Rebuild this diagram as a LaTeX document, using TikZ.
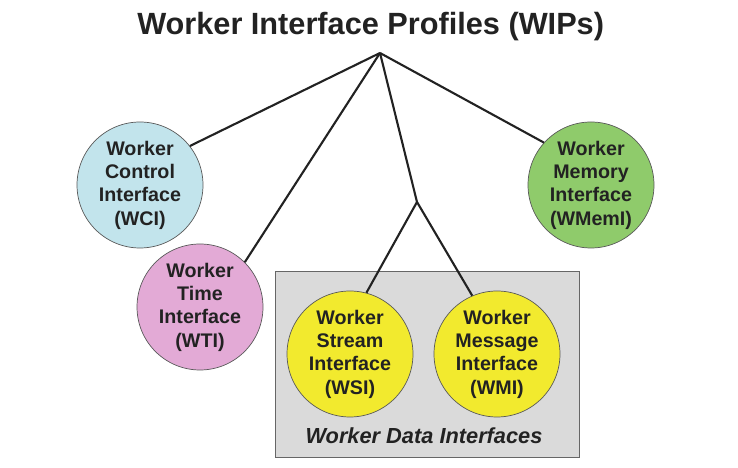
\documentclass[tikz,border=0pt]{standalone}
\usepackage{fontspec}
\setmainfont{Liberation Sans}
\definecolor{bleuWCI}{HTML}{C2E4EC}
\definecolor{roseWTI}{HTML}{E3AAD6}
\definecolor{vertWMem}{HTML}{8FCB6B}
\definecolor{jauneW}{HTML}{F2EA2E}
\definecolor{grisBox}{HTML}{DADADA}
\definecolor{encre}{HTML}{222222}
\begin{document}
\begin{tikzpicture}  % ------ Worker Interface Profiles -------
      [bulle/.style={circle, draw=gray!70!black, line width=.6pt, minimum size=3.78cm,
         inner sep=0pt, align=center, text=encre,
         font=\fontsize{16.8}{19.9}\selectfont\bfseries},
       trait/.style={line width=1.8pt, encre}]

    \useasboundingbox (0,0) rectangle (22.14,14.04);

    \coordinate (H) at (11.4,12.45);    % sommet commun
    \coordinate (B) at (12.51,7.98);    % embranchement WSI / WMI

    \draw[fill=grisBox, draw=gray!80!black, line width=.7pt] (8.25,5.91) rectangle (17.37,0.33) ;

  \node (titre) at (11.12,13.23) [text=encre, font=\fontsize{26.2}{30}\selectfont\bfseries]
      {Worker Interface Profiles (WIPs)} ;

    \node[bulle, fill=bleuWCI]  (WCI)  at (4.2,8.49)   {Worker\\Control\\Interface\\(WCI)} ;
    \node[bulle, fill=roseWTI]  (WTI)  at (6.0,4.83)   {Worker\\Time\\Interface\\(WTI)} ;
    \node[bulle, fill=vertWMem] (WMem) at (17.73,8.49) {Worker\\Memory\\Interface\\(WMemI)} ;
    \node[bulle, fill=jauneW]   (WSI)  at (10.5,3.42)  {Worker\\Stream\\Interface\\(WSI)} ;
    \node[bulle, fill=jauneW]   (WMI)  at (14.91,3.42) {Worker\\Message\\Interface\\(WMI)} ;

  \node (donnees) at (12.72,0.96) [text=encre, font=\fontsize{18.6}{22}\selectfont\bfseries\itshape]
      {Worker Data Interfaces} ;

    \draw[trait] (H) -- (WCI.38) ;
    \draw[trait] (H) -- (WTI.45) ;
    \draw[trait] (H) -- (WMem.138) ;
    \draw[trait] (H) -- (B) ;
    \draw[trait] (B) -- (WSI.75) ;   \draw[trait] (B) -- (WMI.113) ;
\end{tikzpicture}
\end{document}
